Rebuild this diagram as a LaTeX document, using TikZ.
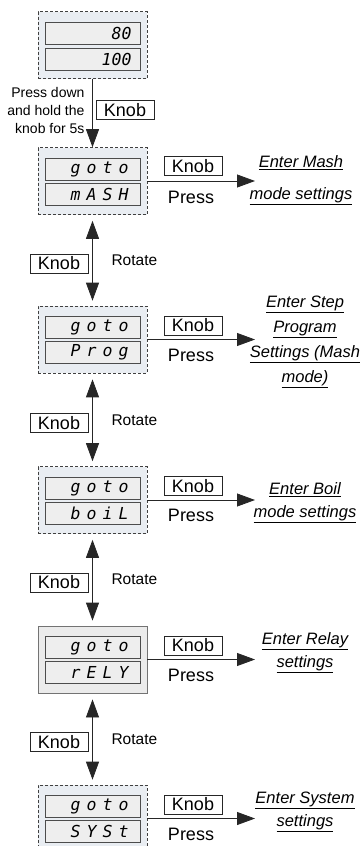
\documentclass[tikz,border=0pt]{standalone}
\usepackage{fontspec}
\setmainfont{Liberation Sans}
\newfontfamily\segfont{DejaVu Sans Mono}
\usepackage{xcolor}
\usepackage{tikz}
\usetikzlibrary{arrows.meta,positioning}

\definecolor{panelblue}{RGB}{233,237,242}
\definecolor{dispgray}{RGB}{238,238,238}
\newcommand{\segcell}[1]{\makebox[16pt][c]{#1}}
\newcommand{\seg}[4]{\segcell{#1}\segcell{#2}\segcell{#3}\segcell{#4}}

\begin{document}
\begin{tikzpicture}[x=1pt, y=-1pt,
    font=\fontsize{18}{20}\selectfont,
    panel/.style={draw=black!75, dash pattern=on 3pt off 2pt, fill=panelblue, line width=0.6pt,
                  minimum width=109pt, minimum height=67pt, inner sep=0pt},
    panelsolid/.style={panel, solid, draw=black!55, fill=black!8, line width=0.8pt},
    disp/.style={draw=black!70, fill=dispgray, line width=0.6pt, minimum width=95pt, minimum height=22pt,
                 inner sep=0pt, text width=78pt, align=right,
                 font=\segfont\itshape\fontsize{16.5}{16.5}\selectfont},
    knob/.style={draw=black!85, fill=white, line width=0.6pt, minimum width=58pt, minimum height=19pt, inner sep=1pt},
    press/.style={font=\fontsize{18}{20}\selectfont},
    rotlabel/.style={font=\fontsize{15.5}{17}\selectfont, anchor=west},
    hold/.style={font=\fontsize{14}{18}\selectfont, align=right, anchor=east},
    target/.style={align=center, font=\itshape\fontsize{16.5}{23}\selectfont},
    arrow/.style={-{Triangle[length=18pt, width=13pt]}, draw=black!85, line width=0.8pt},
    dblarrow/.style={{Triangle[length=18pt, width=13pt]}-{Triangle[length=18pt, width=13pt]}, draw=black!85, line width=0.8pt}
]
\clip (0,0) rectangle (362,846);

% Start display.
\node[panel] (run) at (92.5,45) {};
\node[disp] (run-hi) at (92.5,33) {80};
\node[disp] (run-lo) at (92.5,59) {100};

\node[hold] (holdtxt) at (88,110) {Press down\\and hold the\\knob for 5s};
\node[knob] (holdknob) at (125,110) {Knob};

% Mode panels.
\node[panel] (mash) at (92.5,181) {};
\node[disp] (mash-hi) at (92.5,169) {\seg goto};
\node[disp] (mash-lo) at (92.5,194) {\seg mASH};

\node[panel] (prog) at (92.5,339.5) {};
\node[disp] (prog-hi) at (92.5,327.5) {\seg goto};
\node[disp] (prog-lo) at (92.5,352.5) {\seg Prog};

\node[panel] (boil) at (92.5,500) {};
\node[disp] (boil-hi) at (92.5,488) {\seg goto};
\node[disp] (boil-lo) at (92.5,513) {\seg boiL};

\node[panelsolid] (rely) at (92.5,659.5) {};
\node[disp] (rely-hi) at (92.5,647.5) {\seg goto};
\node[disp] (rely-lo) at (92.5,672.5) {\seg rELY};

\node[panel] (syst) at (92.5,818.5) {};
\node[disp] (syst-hi) at (92.5,806.5) {\seg goto};
\node[disp] (syst-lo) at (92.5,831.5) {\seg SYSt};

\draw[arrow] (run.south) -- (mash.north);

% Press the knob: enter settings.
\node[knob] (mash-knob) at (193,166) {Knob};
\node[press] (mash-press) at (191,197) {Press};
\coordinate (mash-go) at (255,181);
\draw[arrow] (mash.east) -- (mash-go);
\node[target] (mash-tgt) at (301,180) {\underline{Enter Mash}\\[9pt]\underline{mode settings}};

\node[knob] (prog-knob) at (193,325.5) {Knob};
\node[press] (prog-press) at (191,355.5) {Press};
\coordinate (prog-go) at (255,339.5);
\draw[arrow] (prog.east) -- (prog-go);
\node[target, font=\itshape\fontsize{16.5}{25}\selectfont] (prog-tgt) at (305,342)
    {\underline{Enter Step}\\\underline{Program}\\\underline{Settings (Mash}\\\underline{mode)}};

\node[knob] (boil-knob) at (193,486) {Knob};
\node[press] (boil-press) at (191,515) {Press};
\coordinate (boil-go) at (255,500);
\draw[arrow] (boil.east) -- (boil-go);
\node[target] (boil-tgt) at (305,503) {\underline{Enter Boil}\\\underline{mode settings}};

\node[knob] (rely-knob) at (193,645.5) {Knob};
\node[press] (rely-press) at (191,675) {Press};
\coordinate (rely-go) at (255,659.5);
\draw[arrow] (rely.east) -- (rely-go);
\node[target] (rely-tgt) at (305,653) {\underline{Enter Relay}\\\underline{settings}};

\node[knob] (syst-knob) at (193,804.5) {Knob};
\node[press] (syst-press) at (191,834) {Press};
\coordinate (syst-go) at (255,818.5);
\draw[arrow] (syst.east) -- (syst-go);
\node[target] (syst-tgt) at (305,812) {\underline{Enter System}\\\underline{settings}};

% Rotate the knob: next mode.
\node[knob] (rot1-knob) at (59,263.5) {Knob};
\node[rotlabel] (rot1) at (108,260.5) {Rotate};
\draw[dblarrow] ([yshift=-6pt]mash.south) -- ([yshift=5pt]prog.north);

\node[knob] (rot2-knob) at (59,423) {Knob};
\node[rotlabel] (rot2) at (108,420) {Rotate};
\draw[dblarrow] ([yshift=-6pt]prog.south) -- ([yshift=5pt]boil.north);

\node[knob] (rot3-knob) at (59,582.5) {Knob};
\node[rotlabel] (rot3) at (108,579.5) {Rotate};
\draw[dblarrow] ([yshift=-6pt]boil.south) -- ([yshift=5pt]rely.north);

\node[knob] (rot4-knob) at (59,742) {Knob};
\node[rotlabel] (rot4) at (108,739) {Rotate};
\draw[dblarrow] ([yshift=-6pt]rely.south) -- ([yshift=5pt]syst.north);

\end{tikzpicture}
\end{document}
